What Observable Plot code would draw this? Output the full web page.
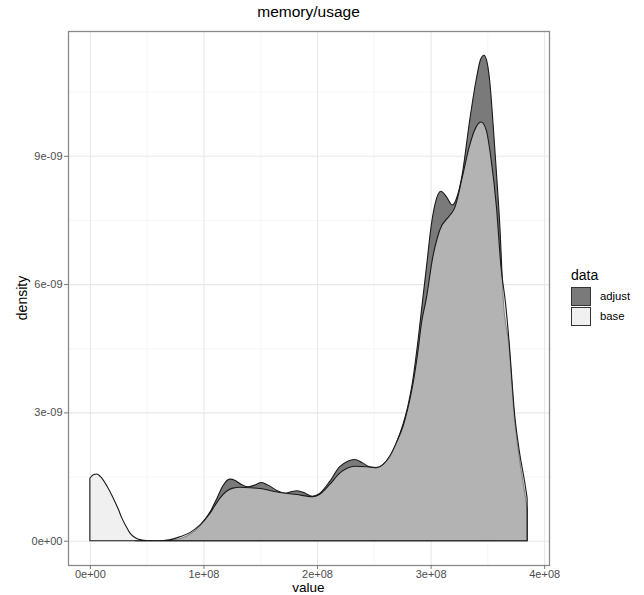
<!DOCTYPE html>
<html>
<head>
<meta charset="utf-8">
<script src="https://cdn.jsdelivr.net/npm/d3@7"></script>
<script src="https://cdn.jsdelivr.net/npm/@observablehq/plot@0.6"></script>
<style>
  body { margin: 0; background: #fff; font-family: "Liberation Sans", Arial, sans-serif; }
  #wrap { position: relative; width: 644px; height: 595px; background: #fff; overflow: hidden; }
  #wrap svg { position: absolute; left: 0; top: 0; }
  .lbl { position: absolute; white-space: nowrap; color: #000; transform: translate(-50%, -50%); line-height: 1; }
  .key { position: absolute; width: 20px; height: 19px; box-sizing: border-box; border: 1px solid #333; }
  .klbl { position: absolute; font-size: 11.3px; color: #000; transform: translateY(-50%); line-height: 1; }
</style>
</head>
<body>
<div id="wrap"></div>
<script>
// ---- data ----
const title = "memory/usage";
const xLabel = "value";
const yLabel = "density";
const legendTitle = "data";
const series = ["adjust", "base"];

const baseX = [0, 0.03e8, 0.06e8, 0.10e8, 0.15e8, 0.20e8, 0.25e8, 0.28e8, 0.32e8, 0.35e8, 0.40e8, 0.45e8, 0.50e8, 0.60e8, 0.70e8, 0.79e8, 0.88e8, 0.97e8, 1.06e8, 1.14e8, 1.20e8, 1.26e8, 1.32e8, 1.41e8, 1.50e8, 1.65e8, 1.82e8, 1.96e8, 2.02e8, 2.11e8, 2.20e8, 2.27e8, 2.33e8, 2.44e8, 2.52e8, 2.58e8, 2.64e8, 2.70e8, 2.76e8, 2.80e8, 2.84e8, 2.89e8, 2.92e8, 2.96e8, 3.02e8, 3.08e8, 3.17e8, 3.21e8, 3.28e8, 3.34e8, 3.40e8, 3.445e8, 3.49e8, 3.53e8, 3.58e8, 3.62e8, 3.66e8, 3.69e8, 3.74e8, 3.78e8, 3.83e8, 3.85e8];
const baseY = [1.46e-9, 1.54e-9, 1.56e-9, 1.48e-9, 1.28e-9, 1.03e-9, 0.74e-9, 0.54e-9, 0.33e-9, 0.19e-9, 0.07e-9, 0.02e-9, 0.005e-9, 0, 0.02e-9, 0.09e-9, 0.19e-9, 0.37e-9, 0.65e-9, 0.98e-9, 1.15e-9, 1.23e-9, 1.25e-9, 1.24e-9, 1.22e-9, 1.14e-9, 1.08e-9, 1.03e-9, 1.08e-9, 1.31e-9, 1.58e-9, 1.70e-9, 1.74e-9, 1.73e-9, 1.71e-9, 1.78e-9, 1.98e-9, 2.30e-9, 2.70e-9, 3.10e-9, 3.60e-9, 4.46e-9, 5.10e-9, 5.63e-9, 6.64e-9, 7.26e-9, 7.61e-9, 7.77e-9, 8.51e-9, 9.21e-9, 9.67e-9, 9.79e-9, 9.60e-9, 8.97e-9, 7.80e-9, 6.40e-9, 5.55e-9, 4.69e-9, 2.95e-9, 2.12e-9, 1.35e-9, 1.00e-9];

const adjustX = [0.40e8, 0.60e8, 0.70e8, 0.80e8, 0.88e8, 0.97e8, 1.06e8, 1.12e8, 1.17e8, 1.23e8, 1.28e8, 1.33e8, 1.39e8, 1.45e8, 1.51e8, 1.57e8, 1.65e8, 1.72e8, 1.78e8, 1.82e8, 1.88e8, 1.96e8, 2.02e8, 2.11e8, 2.20e8, 2.27e8, 2.33e8, 2.40e8, 2.45e8, 2.52e8, 2.58e8, 2.64e8, 2.70e8, 2.76e8, 2.80e8, 2.84e8, 2.89e8, 2.93e8, 2.97e8, 3.00e8, 3.04e8, 3.09e8, 3.14e8, 3.19e8, 3.24e8, 3.28e8, 3.34e8, 3.40e8, 3.44e8, 3.47e8, 3.50e8, 3.52e8, 3.55e8, 3.58e8, 3.61e8, 3.64e8, 3.69e8, 3.74e8, 3.78e8, 3.83e8, 3.85e8];
const adjustY = [0, 0, 0.01e-9, 0.05e-9, 0.15e-9, 0.35e-9, 0.68e-9, 1.00e-9, 1.28e-9, 1.44e-9, 1.41e-9, 1.32e-9, 1.26e-9, 1.30e-9, 1.36e-9, 1.30e-9, 1.17e-9, 1.11e-9, 1.15e-9, 1.17e-9, 1.13e-9, 1.04e-9, 1.10e-9, 1.38e-9, 1.73e-9, 1.86e-9, 1.90e-9, 1.82e-9, 1.74e-9, 1.70e-9, 1.78e-9, 1.95e-9, 2.30e-9, 2.75e-9, 3.15e-9, 3.70e-9, 4.70e-9, 5.63e-9, 6.55e-9, 7.26e-9, 7.88e-9, 8.17e-9, 8.04e-9, 7.85e-9, 8.10e-9, 8.59e-9, 9.75e-9, 10.76e-9, 11.25e-9, 11.35e-9, 11.15e-9, 10.76e-9, 9.75e-9, 8.59e-9, 7.34e-9, 5.63e-9, 4.55e-9, 2.80e-9, 1.95e-9, 1.10e-9, 0.75e-9];

const xTicks = [0, 1e8, 2e8, 3e8, 4e8];
const xTickLabels = ["0e+00", "1e+08", "2e+08", "3e+08", "4e+08"];
const xMinor = [0.5e8, 1.5e8, 2.5e8, 3.5e8];
const yTicks = [0, 3e-9, 6e-9, 9e-9];
const yTickLabels = ["0e+00", "3e-09", "6e-09", "9e-09"];
const yMinor = [1.5e-9, 4.5e-9, 7.5e-9, 10.5e-9];

// ---- build ----
const baseData = baseX.map((x, i) => ({x, y: baseY[i]}));
const adjustData = adjustX.map((x, i) => ({x, y: adjustY[i]}));
const fills = {adjust: "#7a7a7a", base: "#e3e3e3"};
const legendFills = {adjust: "#7a7a7a", base: "#f0f0f0"};

const xmin = 0, xmax = 3.85e8, ymax = 11.35e-9;
const xpad = (xmax - xmin) * 0.05, ypad = ymax * 0.05;

const W = 644, H = 595;
const mL = 68, mR = 95, mT = 31, mB = 30;

const chart = Plot.plot({
  width: W, height: H,
  marginLeft: mL, marginRight: mR, marginTop: mT, marginBottom: mB,
  style: {fontFamily: "'Liberation Sans', Arial, sans-serif", fontSize: "11px", background: "transparent"},
  x: {domain: [xmin - xpad, xmax + xpad]},
  y: {domain: [-ypad, ymax + ypad]},
  marks: [
    Plot.ruleX(xMinor, {stroke: "#f2f2f2", strokeWidth: 0.7}),
    Plot.ruleY(yMinor, {stroke: "#f2f2f2", strokeWidth: 0.7}),
    Plot.ruleX(xTicks, {stroke: "#e8e8e8", strokeWidth: 1.1}),
    Plot.ruleY(yTicks, {stroke: "#e8e8e8", strokeWidth: 1.1}),
    Plot.areaY(adjustData, {x: "x", y: "y", fill: fills.adjust, stroke: "#1a1a1a", strokeWidth: 1.1, curve: "monotone-x"}),
    Plot.areaY(baseData, {x: "x", y: "y", fill: fills.base, fillOpacity: 0.54, stroke: "#1a1a1a", strokeWidth: 1.1, curve: "monotone-x"}),
    Plot.frame({stroke: "#8a8a8a", strokeWidth: 1.3}),
    Plot.axisX({ticks: xTicks, tickFormat: (d) => xTickLabels[xTicks.indexOf(d)], tickSize: 4, tickPadding: 1, label: null, stroke: "#777", fill: "#4d4d4d"}),
    Plot.axisY({ticks: yTicks, tickFormat: (d) => yTickLabels[yTicks.indexOf(d)], tickSize: 4, tickPadding: 2, label: null, stroke: "#777", fill: "#4d4d4d"})
  ]
});

const wrap = document.getElementById("wrap");
wrap.appendChild(chart);

const cx = mL + (W - mL - mR) / 2;
const cy = mT + (H - mT - mB) / 2;

function addLabel(text, x, y, size, extra) {
  const d = document.createElement("div");
  d.className = "lbl";
  d.textContent = text;
  d.style.left = x + "px";
  d.style.top = y + "px";
  d.style.fontSize = size + "px";
  if (extra) d.style.transform = extra;
  wrap.appendChild(d);
  return d;
}
addLabel(title, cx, 12, 15.5);
addLabel(xLabel, cx, 587.5, 13.5);
addLabel(yLabel, 22, cy, 14, "translate(-50%, -50%) rotate(-90deg)");

// legend
const lx = 571, ly = 275;
const lt = document.createElement("div");
lt.className = "klbl";
lt.style.fontSize = "14px";
lt.style.left = lx + "px";
lt.style.top = ly + "px";
lt.textContent = legendTitle;
wrap.appendChild(lt);
series.forEach((s, i) => {
  const k = document.createElement("div");
  k.className = "key";
  k.style.left = lx + "px";
  k.style.top = (287 + i * 20) + "px";
  k.style.background = legendFills[s];
  wrap.appendChild(k);
  const t = document.createElement("div");
  t.className = "klbl";
  t.style.left = (lx + 29) + "px";
  t.style.top = (297 + i * 20) + "px";
  t.textContent = s;
  wrap.appendChild(t);
});
</script>
</body>
</html>
